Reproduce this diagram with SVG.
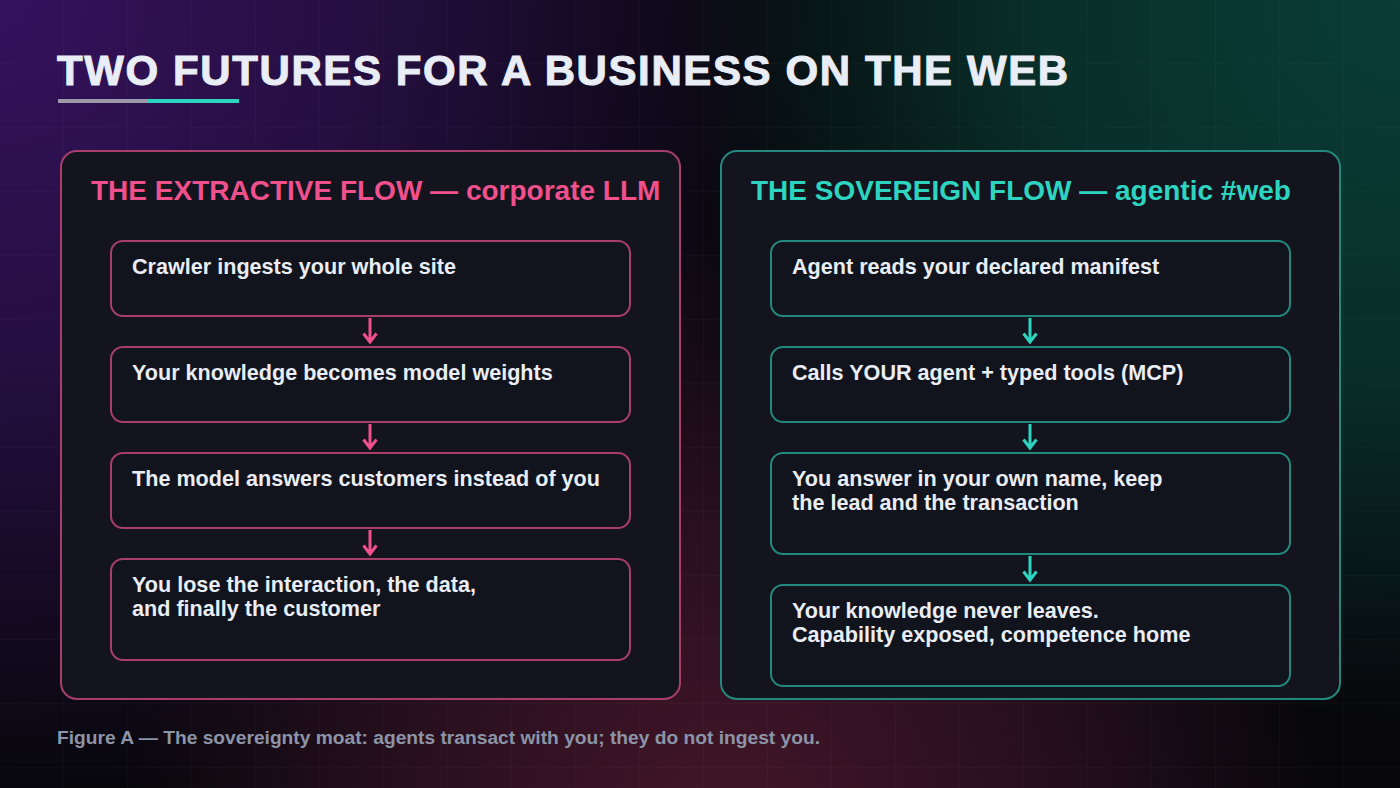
<svg xmlns="http://www.w3.org/2000/svg" width="1400" height="788" viewBox="0 0 1400 788">
<defs>
<radialGradient id="gPurple" cx="0" cy="0" r="800" gradientUnits="userSpaceOnUse">
<stop offset="0" stop-color="#36125e"/><stop offset="0.45" stop-color="#2a104a" stop-opacity="0.85"/><stop offset="1" stop-color="#2a104a" stop-opacity="0"/>
</radialGradient>
<radialGradient id="gTeal" cx="1400" cy="0" r="720" gradientUnits="userSpaceOnUse">
<stop offset="0" stop-color="#0a3d37"/><stop offset="0.5" stop-color="#09362f" stop-opacity="0.85"/><stop offset="1" stop-color="#09362f" stop-opacity="0"/>
</radialGradient>
<radialGradient id="gRed" cx="720" cy="830" r="600" gradientUnits="userSpaceOnUse">
<stop offset="0" stop-color="#441629"/><stop offset="0.5" stop-color="#331224" stop-opacity="0.8"/><stop offset="1" stop-color="#331224" stop-opacity="0"/>
</radialGradient>
<pattern id="grid" width="64" height="64" patternUnits="userSpaceOnUse">
<path d="M64 0V64M0 64H64" fill="none" stroke="#ffffff" stroke-opacity="0.035" stroke-width="1"/>
</pattern>
</defs>
<style>
.panel{fill:#13141e;stroke-width:2}
.box{fill:#12141d;stroke-width:2}
.pk{stroke:#a83e6a}
.tl{stroke:#23897e}
.ptitle{font-family:"Liberation Sans",Arial,sans-serif;font-weight:bold;font-size:28px}
.btxt{font-family:"Liberation Sans",Arial,sans-serif;font-weight:bold;font-size:21.6px;fill:#e9edf5}
.arP{stroke:#f0508c;stroke-width:3;fill:none}
.arT{stroke:#2dd4bf;stroke-width:3;fill:none}
</style>
<rect width="1400" height="788" fill="#07070b"/>
<rect width="1400" height="788" fill="url(#gPurple)"/>
<rect width="1400" height="788" fill="url(#gTeal)"/>
<rect width="1400" height="788" fill="url(#gRed)"/>
<rect width="1400" height="788" fill="url(#grid)"/>

<g id="title">
<text x="57" y="85" font-family="Liberation Sans, Arial, sans-serif" font-weight="bold" font-size="42" fill="#e9edf5" stroke="#e9edf5" stroke-width="1" letter-spacing="1.6">TWO FUTURES FOR A BUSINESS ON THE WEB</text>
<rect x="58" y="99" width="90" height="4" fill="#9b98a8"/>
<rect x="148" y="99" width="91" height="4" fill="#2dd4bf"/>
</g>

<g id="panel-extractive">
<rect class="panel pk" x="61" y="151" width="619" height="548" rx="16"/>
<text class="ptitle" x="91" y="200" fill="#f0508c">THE EXTRACTIVE FLOW — corporate LLM</text>
</g>
<g id="panel-sovereign">
<rect class="panel tl" x="721" y="151" width="619" height="548" rx="16"/>
<text class="ptitle" x="751" y="200" fill="#2dd4bf">THE SOVEREIGN FLOW — agentic #web</text>
</g>

<g id="e1"><rect class="box pk" x="111" y="241" width="519" height="75" rx="12"/><text class="btxt" x="132" y="274">Crawler ingests your whole site</text></g>
<g id="e2"><rect class="box pk" x="111" y="347" width="519" height="75" rx="12"/><text class="btxt" x="132" y="380">Your knowledge becomes model weights</text></g>
<g id="e3"><rect class="box pk" x="111" y="453" width="519" height="75" rx="12"/><text class="btxt" x="132" y="486">The model answers customers instead of you</text></g>
<g id="e4"><rect class="box pk" x="111" y="559" width="519" height="101" rx="12"/><text class="btxt" x="132" y="592">You lose the interaction, the data,</text><text class="btxt" x="132" y="615.5">and finally the customer</text></g>

<g id="s1"><rect class="box tl" x="771" y="241" width="519" height="75" rx="12"/><text class="btxt" x="792" y="274">Agent reads your declared manifest</text></g>
<g id="s2"><rect class="box tl" x="771" y="347" width="519" height="75" rx="12"/><text class="btxt" x="792" y="380">Calls YOUR agent + typed tools (MCP)</text></g>
<g id="s3"><rect class="box tl" x="771" y="453" width="519" height="101" rx="12"/><text class="btxt" x="792" y="486">You answer in your own name, keep</text><text class="btxt" x="792" y="509.5">the lead and the transaction</text></g>
<g id="s4"><rect class="box tl" x="771" y="585" width="519" height="101" rx="12"/><text class="btxt" x="792" y="618">Your knowledge never leaves.</text><text class="btxt" x="792" y="641.5">Capability exposed, competence home</text></g>

<g id="connectors">
<path class="arP" d="M370 318V342M363.5 333.5L370 342L376.5 333.5"/>
<path class="arP" d="M370 424V448M363.5 439.5L370 448L376.5 439.5"/>
<path class="arP" d="M370 530V554M363.5 545.5L370 554L376.5 545.5"/>
<path class="arT" d="M1030 318V342M1023.5 333.5L1030 342L1036.5 333.5"/>
<path class="arT" d="M1030 424V448M1023.5 439.5L1030 448L1036.5 439.5"/>
<path class="arT" d="M1030 556V580M1023.5 571.5L1030 580L1036.5 571.5"/>
</g>

<g id="caption">
<text x="57" y="744" font-family="Liberation Sans, Arial, sans-serif" font-weight="bold" font-size="19.2" fill="#8b95a7">Figure A — The sovereignty moat: agents transact with you; they do not ingest you.</text>
</g>
</svg>
